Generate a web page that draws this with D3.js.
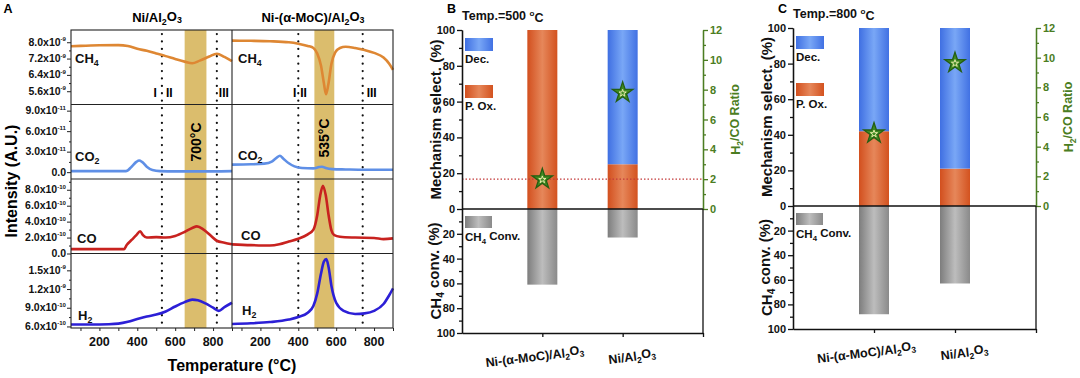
<!DOCTYPE html>
<html><head><meta charset="utf-8">
<script src="https://cdn.jsdelivr.net/npm/d3@7"></script>
<style>
body{margin:0;background:#fff}
svg{display:block}
text{font-family:"Liberation Sans",Arial,sans-serif;font-weight:bold}
</style>
</head><body><svg id="c" width="1080" height="378"></svg>
<script>
// ---------------- DATA ----------------
// Panel A: temperatures (°C) and intensities
const T_CH4_Ni = [50,100,200,300,350,400,450,500,550,600,650,690,730,780,820,860,900];
const V_CH4_Ni = [7.80,7.82,7.85,7.86,7.82,7.68,7.58,7.45,7.32,7.18,7.05,6.97,7.10,7.30,7.44,7.28,7.07]; // x1e-9
const T_CH4_Mo = [50,150,250,350,400,450,480,500,520,535,546,558,575,595,620,650,700,750,800,850,880,900];
const V_CH4_Mo = [8.08,8.07,8.05,8.0,7.93,7.82,7.72,7.45,6.85,6.0,5.45,5.9,6.95,7.5,7.72,7.78,7.72,7.62,7.48,7.25,6.95,6.65];

const T_CO2_Ni = [50,200,340,370,395,410,425,450,480,520,600,700,800,900];
const V_CO2_Ni = [0.15,0.15,0.15,0.8,1.5,1.7,1.5,0.8,0.3,0.15,0.12,0.12,0.12,0.15]; // x1e-11
const T_CO2_Mo = [50,150,220,260,285,303,320,350,380,420,480,510,525,545,580,650,750,900];
const V_CO2_Mo = [1.1,1.15,1.25,1.55,2.1,2.4,2.0,1.3,0.85,0.6,0.55,0.75,0.8,0.6,0.45,0.4,0.35,0.35];

const T_CO_Ni = [50,200,330,345,370,395,415,430,450,500,550,600,650,690,715,750,790,820,860,900];
const V_CO_Ni = [0.55,0.55,0.55,1.1,1.7,2.3,2.8,2.3,2.0,2.05,2.0,2.2,2.7,3.2,3.4,3.0,2.2,1.6,1.35,1.15]; // x1e-10
const T_CO_Mo = [50,150,250,300,350,400,450,480,500,515,530,545,560,575,590,620,700,800,850,900];
const V_CO_Mo = [1.15,1.05,1.0,1.15,1.5,1.85,2.4,3.0,4.8,7.2,8.5,7.3,4.8,2.9,2.3,2.1,2.0,1.95,1.8,1.9];

const T_H2_Ni = [50,150,250,300,350,400,450,500,550,600,650,690,720,760,800,830,860,900];
const V_H2_Ni = [6.3,6.3,6.35,6.45,6.75,7.2,7.6,7.9,8.4,9.2,9.9,10.3,10.2,9.7,9.0,8.5,9.1,9.8]; // x1e-10
const T_H2_Mo = [50,150,250,350,400,450,480,500,520,535,548,560,575,600,640,700,750,800,850,880,900];
const V_H2_Mo = [6.4,6.5,6.7,7.1,7.5,8.2,9.3,11.3,14.5,16.4,16.8,15.5,12.5,9.8,8.5,8.0,8.1,8.5,9.6,11.0,12.1];

const subTitlesA = ["Ni/Al2O3", "Ni-(α-MoC)/Al2O3"];
const gasLabels = ["CH4", "CO2", "CO", "H2"];
const dotLinesNi = [530, 820];
const dotLinesMo = [400, 740];
const bandNi = [650, 765];
const bandMo = [485, 590];
const bandLabels = ["700°C", "535°C"];
const tempTicksA = [200, 400, 600, 800];

const ticksCH4 = [5.6, 6.4, 7.2, 8.0];
const ticksCO2 = [0, 3, 6, 9];
const ticksCO  = [0, 2, 4, 6, 8];
const ticksH2  = [6, 9, 12, 15];
const labelsCH4 = [["5.6x10","-9"],["6.4x10","-9"],["7.2x10","-9"],["8.0x10","-9"]];
const labelsCO2 = [["0.0",""],["3.0x10","-11"],["6.0x10","-11"],["9.0x10","-11"]];
const labelsCO  = [["0.0",""],["2.0x10","-10"],["4.0x10","-10"],["6.0x10","-10"],["8.0x10","-10"]];
const labelsH2  = [["6.0x10","-10"],["9.0x10","-10"],["1.2x10","-9"],["1.5x10","-9"]];

// Panels B & C
const categories = ["Ni-(α-MoC)/Al2O3", "Ni/Al2O3"];
const pox500  = [100, 25];
const dec500  = [0, 75];
const conv500 = [61, 23];
const ratio500 = [2.0, 7.8];
const pox800  = [42, 21];
const dec800  = [58, 79];
const conv800 = [88, 63];
const ratio800 = [4.9, 9.65];
const refRatio500 = 2.0;

// ---------------- HELPERS ----------------
const svg = d3.select("#c");
const GREEN = "#4b7d22";

function chem(sel, str){
  const parts = str.split(/(\d+)/);
  let sub = false;
  parts.forEach((p,i)=>{
    if(!p) return;
    if(/^\d+$/.test(p) && i>0 && /[A-Za-z]$/.test(parts[i-1])){
      sel.append("tspan").attr("font-size","0.68em").attr("dy","0.32em").text(p);
      sub = true;
    } else {
      const t = sel.append("tspan").text(p);
      if(sub){ t.attr("dy","-0.32em"); sub=false; }
    }
  });
  return sel;
}

const defs = svg.append("defs");
function grad(id, c0, c1, c2){
  const g = defs.append("linearGradient").attr("id",id).attr("x1","0").attr("x2","1").attr("y1","0").attr("y2","0");
  g.append("stop").attr("offset","0").attr("stop-color",c0);
  g.append("stop").attr("offset","0.5").attr("stop-color",c1);
  g.append("stop").attr("offset","1").attr("stop-color",c2);
}
grad("gO","#d24f1e","#e6875a","#d3521f");
grad("gB","#3f6fe2","#79a7f6","#4171e3");
grad("gG","#7d7d7d","#bdbdbd","#8a8a8a");

// ---------------- PANEL A ----------------
const rowTop = [30, 104.5, 179, 253.5];
const rowH = 74.5;
const xL = d3.scaleLinear([50,900],[71,232]);
const xR = d3.scaleLinear([50,900],[232,393]);
const yS = [
  d3.scaleLinear([4.95,8.6],[rowTop[0]+rowH,rowTop[0]]),
  d3.scaleLinear([-1.0,9.9],[rowTop[1]+rowH,rowTop[1]]),
  d3.scaleLinear([0,9.35],[rowTop[2]+rowH,rowTop[2]]),
  d3.scaleLinear([5.75,17.7],[rowTop[3]+rowH,rowTop[3]])
];
const majT = [ticksCH4, ticksCO2, ticksCO, ticksH2];
const majL = [labelsCH4, labelsCO2, labelsCO, labelsH2];
const minT = [[6.0,6.8,7.6],[1.5,4.5,7.5],[1,3,5,7,9],[7.5,10.5,13.5]];
const series = [
  [[T_CH4_Ni,V_CH4_Ni],[T_CH4_Mo,V_CH4_Mo],"#de8733"],
  [[T_CO2_Ni,V_CO2_Ni],[T_CO2_Mo,V_CO2_Mo],"#5f8fe6"],
  [[T_CO_Ni,V_CO_Ni],[T_CO_Mo,V_CO_Mo],"#c8221f"],
  [[T_H2_Ni,V_H2_Ni],[T_H2_Mo,V_H2_Mo],"#2c1fd6"]
];
const A = svg.append("g");
const yTopA = 30, yBotA = 328;

// bands
A.append("rect").attr("x",xL(bandNi[0])).attr("width",xL(bandNi[1])-xL(bandNi[0])).attr("y",yTopA).attr("height",yBotA-yTopA).attr("fill","#dbbd6d");
A.append("rect").attr("x",xR(bandMo[0])).attr("width",xR(bandMo[1])-xR(bandMo[0])).attr("y",yTopA).attr("height",yBotA-yTopA).attr("fill","#dbbd6d");

// dotted lines
dotLinesNi.forEach(t=>A.append("line").attr("x1",xL(t)).attr("x2",xL(t)).attr("y1",yTopA+4).attr("y2",yBotA).attr("stroke","#111").attr("stroke-width",2.2).attr("stroke-linecap","round").attr("stroke-dasharray","0.1,7.3"));
dotLinesMo.forEach(t=>A.append("line").attr("x1",xR(t)).attr("x2",xR(t)).attr("y1",yTopA+4).attr("y2",yBotA).attr("stroke","#111").attr("stroke-width",2.2).attr("stroke-linecap","round").attr("stroke-dasharray","0.1,7.3"));

// curves
series.forEach((s,i)=>{
  const y = yS[i];
  [[s[0],xL],[s[1],xR]].forEach(([d,x])=>{
    const pts = d[0].map((t,k)=>[t,d[1][k]]);
    A.append("path").datum(pts)
      .attr("d", d3.line().x(p=>x(p[0])).y(p=>y(p[1])).curve(d3.curveMonotoneX))
      .attr("fill","none").attr("stroke",s[2]).attr("stroke-width",2.6).attr("stroke-linejoin","round");
  });
});

// frame
A.append("rect").attr("x",71).attr("y",yTopA).attr("width",393-71).attr("height",yBotA-yTopA).attr("fill","none").attr("stroke","#222").attr("stroke-width",1.1);
A.append("line").attr("x1",232).attr("x2",232).attr("y1",yTopA).attr("y2",yBotA).attr("stroke","#222").attr("stroke-width",1.1);
rowTop.slice(1).forEach(y=>A.append("line").attr("x1",71).attr("x2",393).attr("y1",y).attr("y2",y).attr("stroke","#222").attr("stroke-width",1.1));

// y ticks A
yS.forEach((y,i)=>{
  const g = A.append("g").attr("transform","translate(71,0)");
  g.call(d3.axisLeft(y).tickValues(majT[i]).tickSize(4).tickSizeOuter(0).tickFormat(""));
  g.append("g").call(d3.axisLeft(y).tickValues(minT[i]).tickSize(2).tickSizeOuter(0).tickFormat(""));
  g.selectAll(".domain").remove();
  g.selectAll("line").attr("stroke","#222");
  majT[i].forEach((v,k)=>{
    const t = g.append("text").attr("x",-5).attr("y",y(v)+3.5).attr("text-anchor","end").attr("font-size",10.5).attr("fill","#111");
    const lab = majL[i][k];
    if(lab[1]){
      t.append("tspan").text(lab[0]);
      t.append("tspan").attr("font-size","0.58em").attr("dy","-0.75em").text(lab[1]);
    } else t.text(lab[0]);
  });
});

// x axes A
[xL,xR].forEach(x=>{
  const g = A.append("g").attr("transform",`translate(0,${yBotA})`);
  g.call(d3.axisBottom(x).tickValues(d3.range(100,901,100)).tickSize(3).tickSizeOuter(0).tickFormat(""));
  g.selectAll(".domain").remove();
  g.selectAll("line").attr("stroke","#222");
  tempTicksA.forEach(v=>g.append("text").attr("x",x(v)).attr("y",18).attr("text-anchor","middle").attr("font-size",12.5).attr("fill","#111").text(v));
});

// titles A
A.append("text").attr("x",8).attr("y",13).attr("font-size",12.5).attr("text-anchor","middle").text("A");
chem(A.append("text").attr("x",157).attr("y",22).attr("font-size",13).attr("text-anchor","middle"), subTitlesA[0]);
chem(A.append("text").attr("x",313).attr("y",22).attr("font-size",13).attr("text-anchor","middle"), subTitlesA[1]);
A.append("text").attr("transform","translate(17,181) rotate(-90)").attr("text-anchor","middle").attr("font-size",16).text("Intensity (A.U.)");
A.append("text").attr("x",232).attr("y",371).attr("text-anchor","middle").attr("font-size",16).text("Temperature (°C)");

// gas labels
const gasPosL = [[75,63],[75,161],[77,243],[78,320]];
const gasPosR = [[238,63],[238,160],[241,240],[242,315]];
gasLabels.forEach((g,i)=>{
  chem(A.append("text").attr("x",gasPosL[i][0]).attr("y",gasPosL[i][1]).attr("font-size",13).attr("fill","#111"), g);
  chem(A.append("text").attr("x",gasPosR[i][0]).attr("y",gasPosR[i][1]).attr("font-size",13).attr("fill","#111"), g);
});
// region numerals
const numY = 97;
A.append("text").attr("x",xL(dotLinesNi[0])-5).attr("y",numY).attr("text-anchor","end").attr("font-size",12).text("I");
A.append("text").attr("x",xL(dotLinesNi[0])+4).attr("y",numY).attr("text-anchor","start").attr("font-size",12).text("II");
A.append("text").attr("x",xL(dotLinesNi[1])+2).attr("y",numY).attr("text-anchor","start").attr("font-size",12).text("III");
A.append("text").attr("x",xR(dotLinesMo[0])-2).attr("y",numY).attr("text-anchor","end").attr("font-size",12).text("I");
A.append("text").attr("x",xR(dotLinesMo[0])+2).attr("y",numY).attr("text-anchor","start").attr("font-size",12).text("II");
A.append("text").attr("x",xR(dotLinesMo[1])+4).attr("y",numY).attr("text-anchor","start").attr("font-size",12).text("III");
// band labels
A.append("text").attr("transform",`translate(${xL((bandNi[0]+bandNi[1])/2)+5},142) rotate(-90)`).attr("text-anchor","middle").attr("font-size",14).text(bandLabels[0]);
A.append("text").attr("transform",`translate(${xR((bandMo[0]+bandMo[1])/2)+5},138) rotate(-90)`).attr("text-anchor","middle").attr("font-size",14).text(bandLabels[1]);

// ---------------- PANELS B & C ----------------
function barPanel(o){
  const G = svg.append("g");
  const x = d3.scaleLinear([0,3],[o.x0,o.x1]);
  const yT = d3.scaleLinear([0,100],[o.y0,o.yt]);
  const yB = d3.scaleLinear([0,100],[o.y0,o.yb]);
  const yR = d3.scaleLinear([0,12],[o.y0,o.yt]);
  const bw = 30;
  // bars
  categories.forEach((c,i)=>{
    const cx = x(i+1);
    G.append("rect").attr("x",cx-bw/2).attr("width",bw).attr("y",yT(o.pox[i])).attr("height",yT(0)-yT(o.pox[i])).attr("fill","url(#gO)");
    if(o.dec[i]>0) G.append("rect").attr("x",cx-bw/2).attr("width",bw).attr("y",yT(o.pox[i]+o.dec[i])).attr("height",yT(o.pox[i])-yT(o.pox[i]+o.dec[i])).attr("fill","url(#gB)");
    G.append("rect").attr("x",cx-bw/2).attr("width",bw).attr("y",yB(0)).attr("height",yB(o.conv[i])-yB(0)).attr("fill","url(#gG)");
  });
  // ref line
  if(o.ref!=null){
    G.append("line").attr("x1",o.x0).attr("x2",o.x1).attr("y1",yR(o.ref)).attr("y2",yR(o.ref)).attr("stroke","#c43a3a").attr("stroke-width",1.2).attr("stroke-dasharray","1.5,2");
  }
  // stars
  categories.forEach((c,i)=>{
    const cx = x(i+1), cy = yR(o.ratio[i]);
    G.append("path").attr("transform",`translate(${cx},${cy})`).attr("d",d3.symbol(d3.symbolStar,130)()).attr("fill","#3f8a22").attr("stroke","#245e12").attr("stroke-width",1.3);
    G.append("path").attr("transform",`translate(${cx},${cy+0.5})`).attr("d",d3.symbol(d3.symbolStar,16)()).attr("fill","none").attr("stroke","#f3f0b2").attr("stroke-width",0.9);
  });
  // zero line
  G.append("line").attr("x1",o.x0).attr("x2",o.x1).attr("y1",o.y0).attr("y2",o.y0).attr("stroke","#111").attr("stroke-width",1.3);
  // left axes
  const gl = G.append("g").attr("transform",`translate(${o.x0},0)`);
  gl.call(d3.axisLeft(yT).tickValues([0,20,40,60,80,100]).tickSize(5).tickSizeOuter(0).tickPadding(2));
  const gl2 = G.append("g").attr("transform",`translate(${o.x0},0)`);
  gl2.call(d3.axisLeft(yB).tickValues([20,40,60,80,100]).tickSize(5).tickSizeOuter(0).tickPadding(2));
  const gm = G.append("g").attr("transform",`translate(${o.x0},0)`);
  gm.call(d3.axisLeft(yT).tickValues([10,30,50,70,90]).tickSize(3).tickSizeOuter(0).tickFormat(""));
  gm.append("g").call(d3.axisLeft(yB).tickValues([10,30,50,70,90]).tickSize(3).tickSizeOuter(0).tickFormat(""));
  [gl,gl2,gm].forEach(g=>{
    g.selectAll("text").attr("font-size",11).attr("fill","#111").attr("font-family","Liberation Sans, Arial, sans-serif").attr("font-weight","bold");
    g.selectAll("line,path").attr("stroke","#111").attr("stroke-width",1.3);
  });
  // right axis
  const gr = G.append("g").attr("transform",`translate(${o.x1},0)`);
  gr.call(d3.axisRight(yR).tickValues([0,2,4,6,8,10,12]).tickSize(5).tickSizeOuter(0).tickPadding(2));
  gr.append("g").call(d3.axisRight(yR).tickValues([1,3,5,7,9,11]).tickSize(3).tickSizeOuter(0).tickFormat(""));
  gr.selectAll("text").attr("font-size",11).attr("fill",GREEN).attr("font-family","Liberation Sans, Arial, sans-serif").attr("font-weight","bold");
  gr.selectAll("line,path").attr("stroke",GREEN).attr("stroke-width",1.3);
  G.append("line").attr("x1",o.x1).attr("x2",o.x1).attr("y1",o.y0).attr("y2",o.yb).attr("stroke","#111").attr("stroke-width",1.3);
  // bottom axis
  const gb = G.append("g").attr("transform",`translate(0,${o.yb})`);
  gb.call(d3.axisBottom(x).tickValues([1,2,3]).tickSize(4).tickSizeOuter(0).tickFormat(""));
  gb.selectAll("line,path").attr("stroke","#111").attr("stroke-width",1.3);
  // category labels
  const dxs = [-7, 10];
  categories.forEach((c,i)=>{
    chem(G.append("text").attr("transform",`translate(${x(i+1)+dxs[i]},${o.yb+28}) rotate(-7)`).attr("text-anchor","middle").attr("font-size",12.5).attr("fill","#111"), c);
  });
  // legend
  const lx = o.x0+3;
  G.append("rect").attr("x",lx).attr("y",o.yt+8).attr("width",28).attr("height",13).attr("fill","url(#gB)");
  G.append("text").attr("x",lx).attr("y",o.yt+33).attr("font-size",11.5).attr("fill","#111").text("Dec.");
  G.append("rect").attr("x",lx).attr("y",o.yt+55).attr("width",28).attr("height",13).attr("fill","url(#gO)");
  G.append("text").attr("x",lx).attr("y",o.yt+80).attr("font-size",11.5).attr("fill","#111").text("P. Ox.");
  G.append("rect").attr("x",lx).attr("y",o.y0+7).attr("width",27).attr("height",12).attr("fill","url(#gG)");
  chem(G.append("text").attr("x",lx).attr("y",o.y0+32).attr("font-size",11.5).attr("fill","#111"), "CH4 Conv.");
  // titles
  G.append("text").attr("x",o.x0-15).attr("y",13).attr("font-size",12.5).text(o.letter);
  const tt = G.append("text").attr("x",o.x0).attr("y",o.yt-10).attr("font-size",12.5).attr("fill","#111");
  tt.append("tspan").text(o.temp+" ");
  tt.append("tspan").attr("font-size","0.65em").attr("dy","-0.5em").text("o");
  tt.append("tspan").attr("dy","0.5em").text("C");
  G.append("text").attr("transform",`translate(${o.x0-21},${(o.y0+o.yt)/2}) rotate(-90)`).attr("text-anchor","middle").attr("font-size",15).attr("fill","#111").text("Mechanism select. (%)");
  chem(G.append("text").attr("transform",`translate(${o.x0-21},${(o.y0+o.yb)/2}) rotate(-90)`).attr("text-anchor","middle").attr("font-size",15).attr("fill","#111"), "CH4 conv. (%)");
  chem(G.append("text").attr("transform",`translate(${o.x1+37},${(o.y0+o.yt)/2}) rotate(-90)`).attr("text-anchor","middle").attr("font-size",12.5).attr("fill",GREEN), "H2/CO Ratio");
}

barPanel({x0:462,x1:703,y0:209,yt:30,yb:333,pox:pox500,dec:dec500,conv:conv500,ratio:ratio500,ref:refRatio500,letter:"B",temp:"Temp.=500"});
barPanel({x0:793,x1:1036,y0:206,yt:28,yb:329,pox:pox800,dec:dec800,conv:conv800,ratio:ratio800,ref:null,letter:"C",temp:"Temp.=800"});
</script></body></html>
